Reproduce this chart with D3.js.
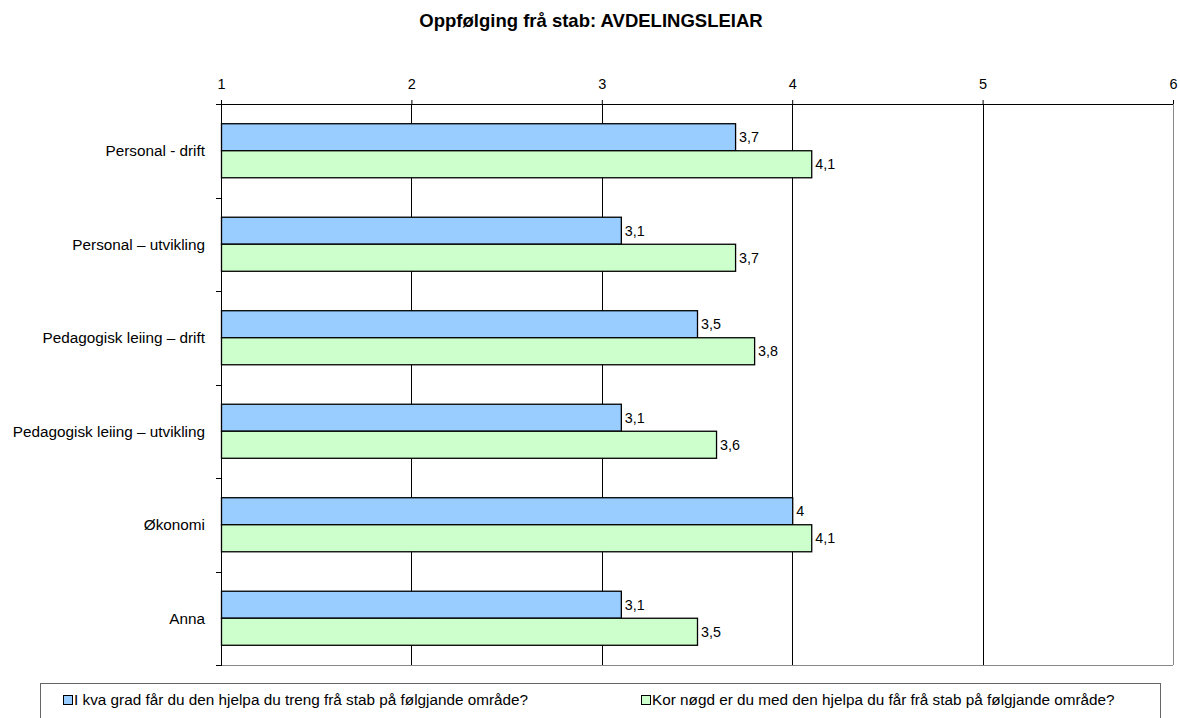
<!DOCTYPE html>
<html>
<head>
<meta charset="utf-8">
<script src="https://cdnjs.cloudflare.com/ajax/libs/d3/7.8.5/d3.min.js"></script>
<style>
  body { margin: 0; background: #fff; }
  svg text { font-family: "Liberation Sans", Arial, sans-serif; fill: #000; }
  .title { font-size: 18.5px; font-weight: bold; }
  .x-axis text { font-size: 14.5px; }
  .cat-label { font-size: 15.3px; }
  .val { font-size: 14.3px; }
  .legend text { font-size: 15.3px; }
</style>
</head>
<body>
<div class="app"></div>
<script>
'use strict'

var width = 1180;
var height = 718;

var categories = [
	"Personal - drift",
	"Personal \u2013 utvikling",
	"Pedagogisk leiing \u2013 drift",
	"Pedagogisk leiing \u2013 utvikling",
	"\u00d8konomi",
	"Anna"
];
var seriesNames = [
	"I kva grad får du den hjelpa du treng frå stab på følgjande område?",
	"Kor nøgd er du med den hjelpa du får frå stab på følgjande område?"
];
var helpValues = [3.7, 3.1, 3.5, 3.1, 4, 3.1];
var satisfiedValues = [4.1, 3.7, 3.8, 3.6, 4.1, 3.5];
var xTicks = [1, 2, 3, 4, 5, 6];
var colors = ["#99ccff", "#ccffcc"];

var plotLeft = 221, plotRight = 1173, plotTop = 104, plotBottom = 665;

var svg = d3.select(".app")
	.append("svg")
	.attr("width", width)
	.attr("height", height);

// title
svg.append("text")
	.attr("class", "title")
	.attr("x", 591)
	.attr("y", 27)
	.attr("text-anchor", "middle")
	.text("Oppfølging frå stab: AVDELINGSLEIAR");

var scaleX = d3.scaleLinear()
	.domain([1, 6])
	.range([plotLeft, plotRight]);

var scaleY = d3.scaleBand()
	.domain(categories)
	.range([plotTop, plotBottom]);

var scaleSub = d3.scaleBand()
	.domain([0, 1])
	.range([0, scaleY.bandwidth()])
	.paddingOuter(0.73);

// plot frame: grey right and bottom edges
svg.append("line")
	.attr("x1", plotRight + 0.5).attr("x2", plotRight + 0.5)
	.attr("y1", plotTop).attr("y2", plotBottom)
	.attr("stroke", "#888").attr("stroke-width", 1);
svg.append("line")
	.attr("x1", plotLeft).attr("x2", plotRight)
	.attr("y1", plotBottom + 0.5).attr("y2", plotBottom + 0.5)
	.attr("stroke", "#888").attr("stroke-width", 1);

// vertical grid lines
svg.append("g")
	.selectAll("line")
	.data(xTicks.slice(1, -1))
	.join("line")
	.attr("x1", function(d) { return Math.round(scaleX(d)) + 0.5; })
	.attr("x2", function(d) { return Math.round(scaleX(d)) + 0.5; })
	.attr("y1", plotTop)
	.attr("y2", plotBottom)
	.attr("stroke", "#000");

// top axis
var xAxis = d3.axisTop(scaleX)
	.tickValues(xTicks)
	.tickFormat(d3.format("d"))
	.tickSize(4)
	.tickSizeOuter(0)
	.tickPadding(11);

var gx = svg.append("g")
	.attr("class", "x-axis")
	.attr("transform", "translate(0," + plotTop + ")")
	.call(xAxis);
gx.select(".domain").remove();
gx.selectAll(".tick line").attr("stroke", "#000");
gx.selectAll(".tick text").attr("fill", "#000");
svg.append("line")
	.attr("x1", plotLeft - 5).attr("x2", plotRight)
	.attr("y1", plotTop + 0.5).attr("y2", plotTop + 0.5)
	.attr("stroke", "#000");

// left axis line + category separators
svg.append("line")
	.attr("x1", plotLeft + 0.5).attr("x2", plotLeft + 0.5)
	.attr("y1", plotTop).attr("y2", plotBottom + 1)
	.attr("stroke", "#000");

var seps = categories.map(function(c) { return scaleY(c) + scaleY.bandwidth(); });
svg.append("g")
	.selectAll("line")
	.data(seps)
	.join("line")
	.attr("x1", plotLeft - 5).attr("x2", plotLeft)
	.attr("y1", function(d) { return Math.round(d) + 0.5; })
	.attr("y2", function(d) { return Math.round(d) + 0.5; })
	.attr("stroke", "#000");

// category labels
svg.append("g")
	.selectAll("text")
	.data(categories)
	.join("text")
	.attr("class", "cat-label")
	.attr("x", 205)
	.attr("y", function(d) { return scaleY(d) + scaleY.bandwidth() / 2; })
	.attr("dy", "0.35em")
	.attr("text-anchor", "end")
	.text(function(d) { return d; });

// bars
var series = [helpValues, satisfiedValues];
var fmt = function(v) { return String(v).replace(".", ","); };

series.forEach(function(vals, s) {
	var g = svg.append("g");
	var rows = categories.map(function(c, i) { return {cat: c, v: vals[i]}; });
	g.selectAll("rect")
		.data(rows)
		.join("rect")
		.attr("x", plotLeft + 0.5)
		.attr("y", function(d) { return scaleY(d.cat) + scaleSub(s); })
		.attr("width", function(d) { return scaleX(d.v) - plotLeft; })
		.attr("height", scaleSub.bandwidth())
		.attr("fill", colors[s])
		.attr("stroke", "#000")
		.attr("stroke-width", 1.3);
	g.selectAll("text")
		.data(rows)
		.join("text")
		.attr("class", "val")
		.attr("x", function(d) { return scaleX(d.v) + 4; })
		.attr("y", function(d) { return scaleY(d.cat) + scaleSub(s) + scaleSub.bandwidth() / 2; })
		.attr("dy", "0.35em")
		.text(function(d) { return fmt(d.v); });
});

// legend
var legend = svg.append("g").attr("class", "legend");
legend.append("rect")
	.attr("x", 40.5).attr("y", 683.5)
	.attr("width", 1120).attr("height", 50)
	.attr("fill", "#fff")
	.attr("stroke", "#666");

var legendX = [63, 641];
seriesNames.forEach(function(name, s) {
	legend.append("rect")
		.attr("x", legendX[s] + 0.5).attr("y", 695.5)
		.attr("width", 9).attr("height", 9)
		.attr("fill", colors[s])
		.attr("stroke", "#000");
	legend.append("text")
		.attr("x", legendX[s] + 11)
		.attr("y", 700)
		.attr("dy", "0.35em")
		.text(name);
});
</script>
</body>
</html>
